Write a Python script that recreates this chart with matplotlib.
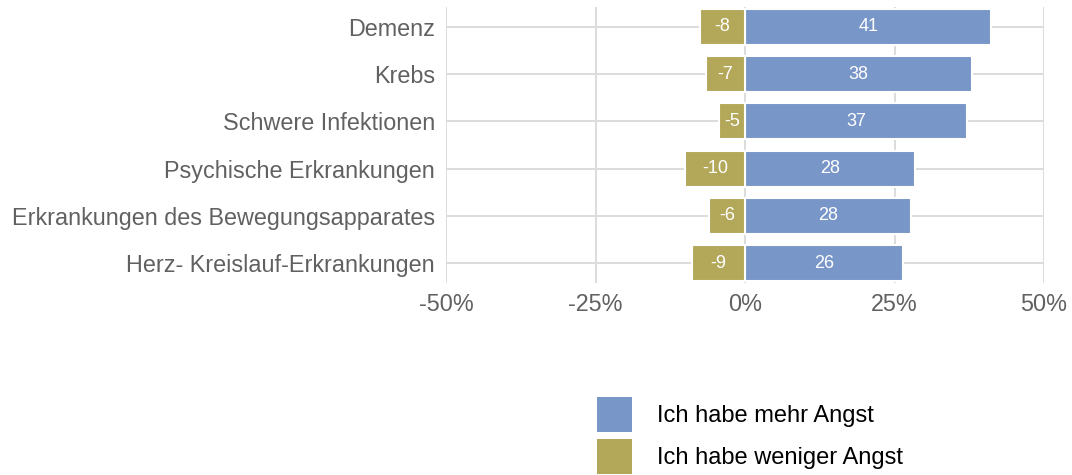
import matplotlib
matplotlib.use("Agg")
import matplotlib.pyplot as plt
from matplotlib.patches import Patch
import numpy as np

plt.rcParams['font.family'] = ['Liberation Sans', 'DejaVu Sans']

categories = ["Demenz", "Krebs", "Schwere Infektionen", "Psychische Erkrankungen",
              "Erkrankungen des Bewegungsapparates", "Herz- Kreislauf-Erkrankungen"]
more_vals = [41.2, 37.9, 37.2, 28.4, 27.7, 26.5]
less_vals = [-7.5, -6.6, -4.4, -10.1, -6.1, -8.8]
more_labels = [41, 38, 37, 28, 28, 26]
less_labels = [-8, -7, -5, -10, -6, -9]
xticks = [-50, -25, 0, 25, 50]
xticklabels = ["-50%", "-25%", "0%", "25%", "50%"]
series_names = ["Ich habe mehr Angst", "Ich habe weniger Angst"]

blue = "#7896C8"
olive = "#B3A85A"
grid_c = "#DCDCDC"
text_c = "#616161"

W, H = 1072, 475
fig = plt.figure(figsize=(W / 100, H / 100), dpi=100)
ax = fig.add_axes([446 / W, 1 - 283 / H, (1044 - 446) / W, (283 - 7) / H])

n = len(categories)
y = np.arange(n)[::-1]

ax.set_xlim(-50, 50)
ax.set_ylim(-0.42, n - 1 + 0.42)
ax.set_xticks(xticks)
ax.set_xticklabels(xticklabels)
ax.set_yticks(y)
ax.set_yticklabels(categories)
ax.grid(True, color=grid_c, linewidth=1.4)
ax.set_axisbelow(True)
for s in ax.spines.values():
    s.set_visible(False)
ax.tick_params(length=0, labelsize=16.8, labelcolor=text_c)
ax.tick_params(axis='y', pad=8)
ax.tick_params(axis='x', pad=7)

h = 0.76
b1 = ax.barh(y, more_vals, height=h, color=blue, edgecolor="white", linewidth=1.5)
b2 = ax.barh(y, less_vals, height=h, color=olive, edgecolor="white", linewidth=1.5)

for yi, v, lab in zip(y, more_vals, more_labels):
    ax.text(v / 2, yi, str(lab), ha='center', va='center', color='white', fontsize=13)
for yi, v, lab in zip(y, less_vals, less_labels):
    ax.text(v / 2, yi, str(lab), ha='center', va='center', color='white', fontsize=13)

handles = [Patch(facecolor=blue, edgecolor='none'), Patch(facecolor=olive, edgecolor='none')]
fig.legend(handles, series_names, loc='upper left', bbox_to_anchor=(597 / W, 1 - 397 / H),
           frameon=False, fontsize=17, handlelength=1.48, handleheight=1.903,
           labelspacing=0.3, handletextpad=1.06, borderaxespad=0, borderpad=0)

fig.savefig("out.png", dpi=100)
